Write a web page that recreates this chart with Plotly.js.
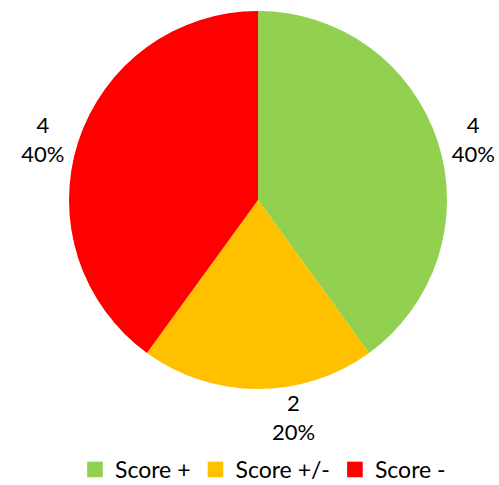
<!DOCTYPE html>
<html>
<head>
<meta charset="utf-8">
<script src="https://cdn.plot.ly/plotly-3.0.1.min.js"></script>
<style>html,body{margin:0;padding:0;background:#fff;}#chart{width:499px;height:485px;}</style>
</head>
<body>
<div id="chart"></div>
<script>
const labels = ["Score +", "Score +/-", "Score -"];
const values = [4, 2, 4];
const colors = ["#92D050", "#FFC000", "#FF0000"];

const trace = {
  type: "pie",
  labels: labels,
  values: values,
  sort: false,
  direction: "clockwise",
  rotation: 0,
  marker: {colors: colors, line: {width: 0}},
  textinfo: "value+percent",
  texttemplate: "%{value}<br>%{percent:.0%}",
  textposition: "outside",
  outsidetextfont: {family: "Lato, 'Open Sans', sans-serif", size: 22, color: "#000"},
  domain: {x: [0.1383, 0.8958], y: [0.1979, 0.9773]},
  hoverinfo: "none"
};

const layout = {
  width: 499,
  height: 485,
  margin: {l: 0, r: 0, t: 0, b: 0},
  paper_bgcolor: "#fff",
  showlegend: true,
  legend: {
    orientation: "h",
    x: 0.527, xanchor: "center",
    y: 0, yanchor: "bottom",
    font: {family: "Lato, 'Open Sans', sans-serif", size: 23, color: "#000"},
    traceorder: "normal",
    itemwidth: 30
  },
  font: {family: "Lato, 'Open Sans', sans-serif"}
};

Plotly.newPlot("chart", [trace], layout, {staticPlot: true}).then(function () {
  document.querySelectorAll("#chart .legendpoints path").forEach(function (p) {
    const t = p.getAttribute("transform") || "";
    p.setAttribute("transform", t + " scale(1.3)");
  });
  const lg = document.querySelector("#chart g.legend");
  if (lg) {
    const t = lg.getAttribute("transform") || "";
    lg.setAttribute("transform", t + " translate(0,6)");
  }
});
</script>
</body>
</html>
